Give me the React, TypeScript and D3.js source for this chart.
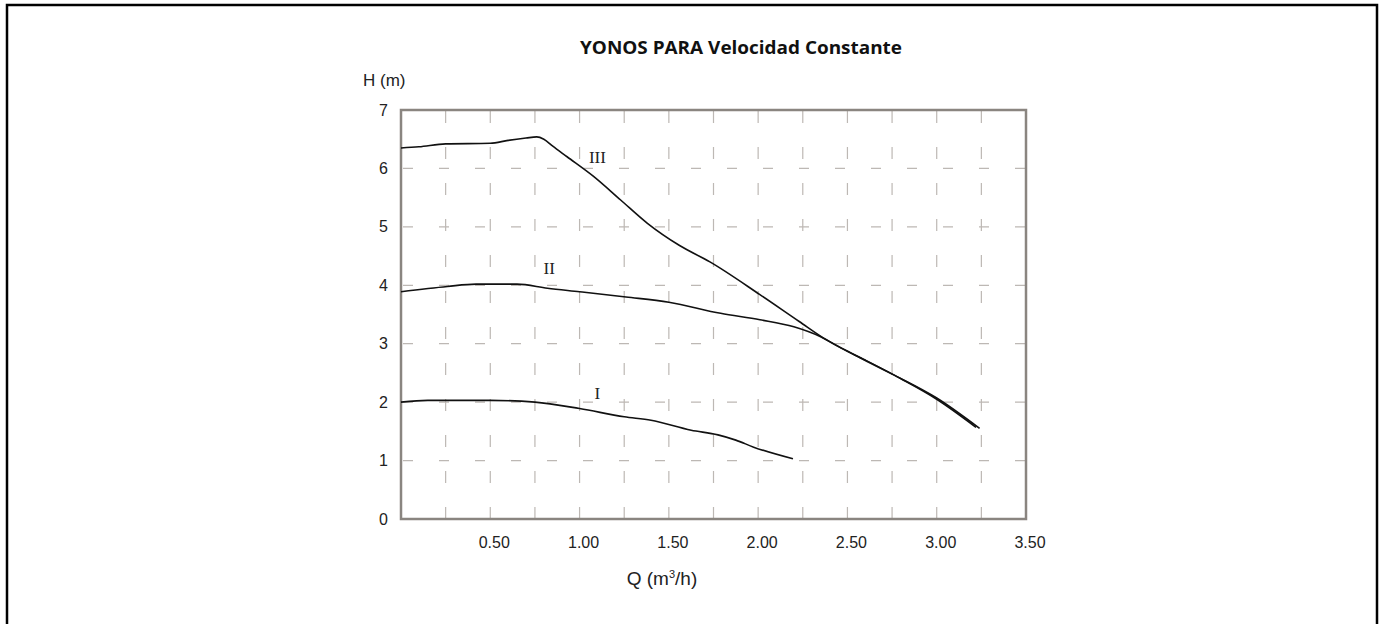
import React from "react";
import * as d3 from "d3";

// curve I (m3/h, m)
const qI = [0, 0.15, 0.5, 0.75, 1.0, 1.25, 1.4, 1.625, 1.775, 1.875, 1.975, 2.195];
const hI = [2.0, 2.03, 2.03, 2.0, 1.89, 1.75, 1.69, 1.52, 1.44, 1.35, 1.23, 1.03];

// curve II
const qII = [0, 0.26, 0.42, 0.65, 0.82, 1.0, 1.26, 1.5, 1.79, 2.01, 2.2, 2.35, 2.47, 2.6, 2.8, 3.0, 3.22];
const hII = [3.89, 3.98, 4.02, 4.02, 3.95, 3.89, 3.8, 3.71, 3.52, 3.41, 3.29, 3.12, 2.92, 2.72, 2.4, 2.05, 1.57];

// curve III
const qIII = [0, 0.1, 0.25, 0.5, 0.6, 0.7, 0.76, 0.8, 0.85, 0.93, 1.08, 1.23, 1.38, 1.56, 1.73, 2.01, 2.23, 2.38, 2.57, 2.75, 3.0, 3.24];
const hIII = [6.35, 6.37, 6.42, 6.43, 6.48, 6.52, 6.54, 6.5, 6.38, 6.2, 5.86, 5.46, 5.06, 4.68, 4.4, 3.84, 3.38, 3.07, 2.76, 2.48, 2.07, 1.55];

const curveNames = ["I", "II", "III"];
const labelQ = [1.1, 0.83, 1.1];
const labelH = [2.15, 4.3, 6.2];

const yTicks = [0, 1, 2, 3, 4, 5, 6, 7];
const xTickLabels = ["0.50", "1.00", "1.50", "2.00", "2.50", "3.00", "3.50"];
const xGrid = [0.25, 0.5, 0.75, 1, 1.25, 1.5, 1.75, 2, 2.25, 2.5, 2.75, 3, 3.25];

const W = 1386;
const H = 624;
const left = 401, right = 1026, top = 110, bottom = 519;

export default function App() {
  const x = d3.scaleLinear().domain([0, 3.5]).range([left, right]);
  const y = d3.scaleLinear().domain([0, 7]).range([bottom, top]);
  const line = d3
    .line<[number, number]>()
    .x((d) => x(d[0]))
    .y((d) => y(d[1]))
    .curve(d3.curveMonotoneX);

  const series = [
    qI.map((q, i) => [q, hI[i]] as [number, number]),
    qII.map((q, i) => [q, hII[i]] as [number, number]),
    qIII.map((q, i) => [q, hIII[i]] as [number, number]),
  ];

  const sans = "'Liberation Sans', Arial, sans-serif";

  return (
    <svg
      width={W}
      height={H}
      style={{ position: "absolute", left: 0, top: 0, display: "block", background: "#fff" }}
    >
      {/* outer frame */}
      <path d={`M7,${H + 5} V5 H1377 V${H + 5}`} fill="none" stroke="#000" strokeWidth={2.5} />

      <text
        x={741}
        y={54}
        textAnchor="middle"
        fontFamily="'Open Sans', sans-serif"
        fontWeight="bold"
        fontSize={17}
        fill="#111"
        textLength={322}
        lengthAdjust="spacingAndGlyphs"
      >
        YONOS PARA Velocidad Constante
      </text>

      <text x={363} y={86} fontFamily={sans} fontSize={17} fill="#222">
        H (m)
      </text>

      {/* horizontal dashed grid */}
      {yTicks.slice(1, -1).map((t) => (
        <line
          key={"h" + t}
          x1={left + 2}
          x2={right}
          y1={y(t)}
          y2={y(t)}
          stroke="#bdb8b4"
          strokeWidth={1.2}
          strokeDasharray="10,26"
        />
      ))}
      {/* vertical dashed grid */}
      {xGrid.map((t) => (
        <line
          key={"v" + t}
          x1={x(t)}
          x2={x(t)}
          y1={top + 1}
          y2={bottom}
          stroke="#bdb8b4"
          strokeWidth={1.2}
          strokeDasharray="12,24"
        />
      ))}

      {/* plot frame */}
      <rect
        x={left}
        y={top}
        width={right - left}
        height={bottom - top}
        fill="none"
        stroke="#8a8580"
        strokeWidth={2.5}
      />

      {yTicks.map((t) => (
        <text
          key={"yt" + t}
          x={388}
          y={y(t)}
          dy="0.35em"
          textAnchor="end"
          fontFamily={sans}
          fontSize={16}
          fill="#222"
        >
          {t}
        </text>
      ))}
      {xTickLabels.map((t) => (
        <text
          key={"xt" + t}
          x={x(+t) + 4}
          y={548}
          textAnchor="middle"
          fontFamily={sans}
          fontSize={16}
          fill="#222"
        >
          {t}
        </text>
      ))}

      <text x={662} y={585} textAnchor="middle" fontFamily={sans} fontSize={19} fill="#222">
        Q (m<tspan dy={-7} fontSize={11}>3</tspan>
        <tspan dy={7}>/h)</tspan>
      </text>

      {series.map((s, i) => (
        <path key={"c" + i} d={line(s) || ""} fill="none" stroke="#111" strokeWidth={1.6} />
      ))}

      {curveNames.map((n, i) => (
        <text
          key={"l" + n}
          x={x(labelQ[i])}
          y={y(labelH[i])}
          dy="0.35em"
          textAnchor="middle"
          fontFamily="'Liberation Serif', 'Times New Roman', serif"
          fontSize={17}
          fill="#222"
        >
          {n}
        </text>
      ))}
    </svg>
  );
}
